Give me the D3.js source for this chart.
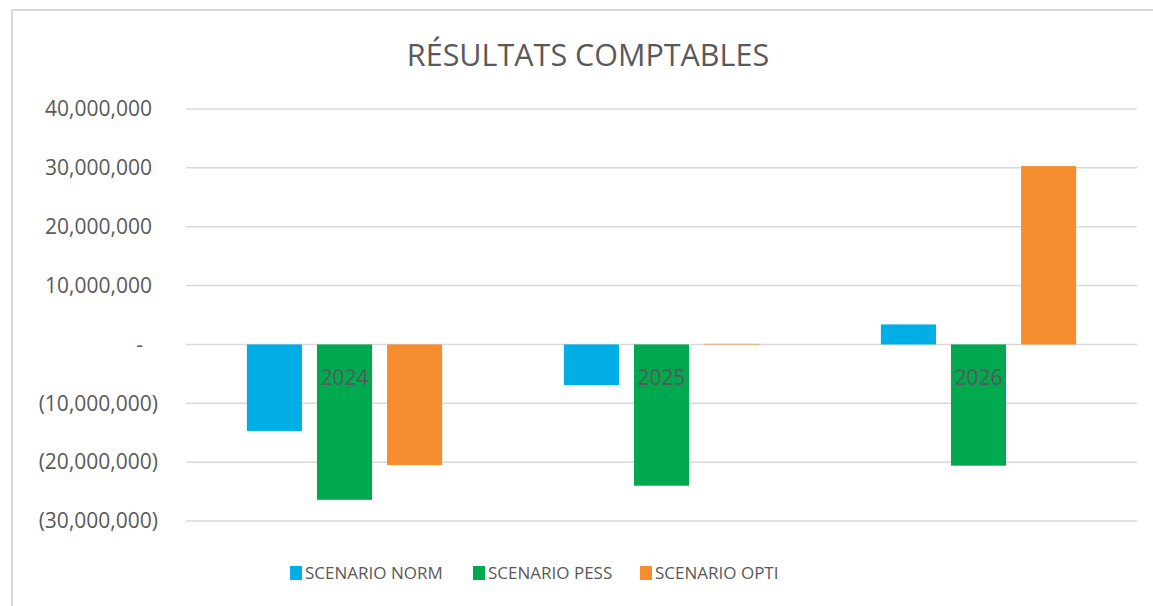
<!DOCTYPE html>
<meta charset="utf-8">
<script src="https://d3js.org/d3.v7.min.js"></script>
<style>
  body { margin: 0; background: #fff; }
  text { font-family: "Open Sans", sans-serif; fill: #595959; }
</style>
<div id="chart"></div>
<script>

// data
const years = ["2024", "2025", "2026"];
const scenarios = ["SCENARIO NORM", "SCENARIO PESS", "SCENARIO OPTI"];
const norm = [-14700000, -6900000, 3400000];
const pess = [-26400000, -24000000, -20600000];
const opti = [-20500000, 100000, 30300000];
const yTicks = [-30000000, -20000000, -10000000, 0, 10000000, 20000000, 30000000, 40000000];
const colors = ["#00aee6", "#00a84f", "#f68d2e"];

const series = [norm, pess, opti];
const rows = years.map((yr, i) => ({year: yr, vals: series.map(s => s[i])}));

const W = 1153, H = 606;
const plot = {left: 186, right: 1137, top: 109, bottom: 521};

const svg = d3.select("#chart").append("svg")
  .attr("width", W)
  .attr("height", H);

// chart border
svg.append("rect")
  .attr("x", 12).attr("y", 10)
  .attr("width", W + 20).attr("height", H + 20)
  .attr("fill", "#fff")
  .attr("stroke", "#d9d9d9")
  .attr("stroke-width", 2);

// title
svg.append("text")
  .attr("x", 588)
  .attr("y", 66)
  .attr("text-anchor", "middle")
  .attr("font-size", 30.5)
  .text("RÉSULTATS COMPTABLES");

const y = d3.scaleLinear()
  .domain([-30000000, 40000000])
  .range([plot.bottom, plot.top]);

const x0 = d3.scaleBand()
  .domain(years)
  .range([plot.left, plot.right])
  .paddingInner(0.384)
  .paddingOuter(0.192);

const x1 = d3.scaleBand()
  .domain(d3.range(scenarios.length))
  .range([0, x0.bandwidth()])
  .paddingInner(0.214);

// gridlines
svg.append("g")
  .selectAll("line")
  .data(yTicks)
  .join("line")
    .attr("x1", plot.left)
    .attr("x2", plot.right)
    .attr("y1", d => y(d))
    .attr("y2", d => y(d))
    .attr("stroke", "#d9d9d9")
    .attr("stroke-width", 1.5);

// y labels, accounting style
const fmt = d3.format(",");
svg.append("g")
  .selectAll("text")
  .data(yTicks)
  .join("text")
    .attr("x", d => d < 0 ? 158 : (d === 0 ? 143 : 152))
    .attr("y", d => y(d))
    .attr("dy", "0.35em")
    .attr("text-anchor", "end")
    .attr("font-size", 21)
    .text(d => d < 0 ? "(" + fmt(-d) + ")" : (d === 0 ? "-" : fmt(d)));

// bars
const groups = svg.append("g")
  .selectAll("g")
  .data(rows)
  .join("g")
    .attr("transform", d => `translate(${x0(d.year)},0)`);

groups.selectAll("rect")
  .data(d => d.vals.map((v, k) => ({k: k, v: v})))
  .join("rect")
    .attr("x", d => x1(d.k))
    .attr("width", x1.bandwidth())
    .attr("y", d => y(Math.max(0, d.v)))
    .attr("height", d => Math.abs(y(d.v) - y(0)))
    .attr("fill", d => colors[d.k]);

// category labels sit at the zero line
svg.append("g")
  .selectAll("text")
  .data(years)
  .join("text")
    .attr("x", d => x0(d) + x0.bandwidth() / 2)
    .attr("y", y(0) + 33)
    .attr("dy", "0.35em")
    .attr("text-anchor", "middle")
    .attr("font-size", 21)
    .text(d => d);

// legend
const legendX = [290, 473, 640];
const legend = svg.append("g")
  .selectAll("g")
  .data(scenarios)
  .join("g")
    .attr("transform", (d, i) => `translate(${legendX[i]},573)`);

legend.append("rect")
  .attr("x", 0).attr("y", -7)
  .attr("width", 12).attr("height", 14)
  .attr("fill", (d, i) => colors[i]);

legend.append("text")
  .attr("x", 15)
  .attr("dy", "0.35em")
  .attr("font-size", 17)
  .text(d => d);

</script>
